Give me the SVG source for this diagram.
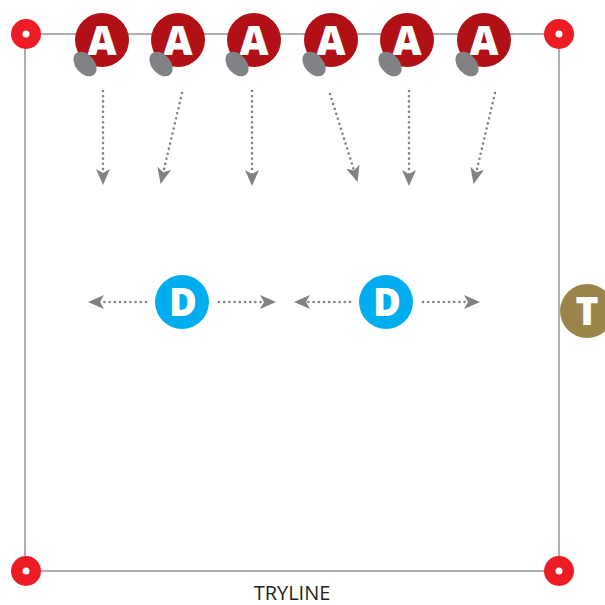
<svg xmlns="http://www.w3.org/2000/svg" width="605" height="605" viewBox="0 0 605 605">
<defs>
<style>
.field{fill:none;stroke:#939598;stroke-width:1.5}
.cone{fill:#ed1c24}
.hole{fill:#fff}
.att{fill:#b11116}
.def{fill:#00aeef}
.tch{fill:#9a844a}
.ball{fill:#808285}
.lbl{font-family:"Open Sans","Liberation Sans",sans-serif;font-weight:800;fill:#fff;text-anchor:middle}
.run{fill:none;stroke:#808285;stroke-width:2.6;stroke-linecap:round;stroke-dasharray:0 5.2;marker-end:url(#ah)}
.cap{font-family:"Open Sans","Liberation Sans",sans-serif;font-size:20px;fill:#231f20;text-anchor:middle}
</style>
<marker id="ah" viewBox="0 0 16 14" refX="14" refY="7" markerWidth="16" markerHeight="14" markerUnits="userSpaceOnUse" orient="auto">
<path d="M0,0 L16,7 L0,14 L4,7 Z" fill="#808285"/>
</marker>
</defs>
<rect class="field" x="25" y="34" width="534" height="537"/>
<g id="cone-tl"><circle class="cone" cx="26" cy="34" r="15"/><circle class="hole" cx="26" cy="34" r="3.5"/></g>
<g id="cone-tr"><circle class="cone" cx="559" cy="34" r="15"/><circle class="hole" cx="559" cy="34" r="3.5"/></g>
<g id="cone-bl"><circle class="cone" cx="26" cy="571" r="15"/><circle class="hole" cx="26" cy="571" r="3.5"/></g>
<g id="cone-br"><circle class="cone" cx="559" cy="571" r="15"/><circle class="hole" cx="559" cy="571" r="3.5"/></g>
<g id="connectors">
<path class="run" d="M103,91 L103,183"/>
<path class="run" d="M182,93 L161,182"/>
<path class="run" d="M252,91 L252,184"/>
<path class="run" d="M330,94 L357,180"/>
<path class="run" d="M409,91 L409,184"/>
<path class="run" d="M495,93 L474,182"/>
<path class="run" d="M146,302 L90,302"/>
<path class="run" d="M219,302 L274,302"/>
<path class="run" d="M350,302 L296,302"/>
<path class="run" d="M423,302 L478,302"/>
</g>
<g id="a1"><circle class="att" cx="102" cy="40" r="27"/><text class="lbl" x="102" y="55" font-size="40">A</text><ellipse class="ball" cx="85" cy="64" rx="14" ry="9.5" transform="rotate(50 85 64)"/></g>
<g id="a2"><circle class="att" cx="178" cy="40" r="27"/><text class="lbl" x="178" y="55" font-size="40">A</text><ellipse class="ball" cx="161" cy="64" rx="14" ry="9.5" transform="rotate(50 161 64)"/></g>
<g id="a3"><circle class="att" cx="254" cy="40" r="27"/><text class="lbl" x="254" y="55" font-size="40">A</text><ellipse class="ball" cx="237" cy="64" rx="14" ry="9.5" transform="rotate(50 237 64)"/></g>
<g id="a4"><circle class="att" cx="331" cy="40" r="27"/><text class="lbl" x="331" y="55" font-size="40">A</text><ellipse class="ball" cx="314" cy="64" rx="14" ry="9.5" transform="rotate(50 314 64)"/></g>
<g id="a5"><circle class="att" cx="407" cy="40" r="27"/><text class="lbl" x="407" y="55" font-size="40">A</text><ellipse class="ball" cx="390" cy="64" rx="14" ry="9.5" transform="rotate(50 390 64)"/></g>
<g id="a6"><circle class="att" cx="484" cy="40" r="27"/><text class="lbl" x="484" y="55" font-size="40">A</text><ellipse class="ball" cx="467" cy="64" rx="14" ry="9.5" transform="rotate(50 467 64)"/></g>
<g id="d1"><circle class="def" cx="182" cy="302" r="27"/><text class="lbl" x="183" y="315.5" font-size="38">D</text></g>
<g id="d2"><circle class="def" cx="386" cy="302" r="27"/><text class="lbl" x="387" y="315.5" font-size="38">D</text></g>
<g id="t"><circle class="tch" cx="587" cy="311" r="27"/><text class="lbl" x="587" y="325" font-size="39">T</text></g>
<text class="cap" x="292" y="600">TRYLINE</text>
</svg>
